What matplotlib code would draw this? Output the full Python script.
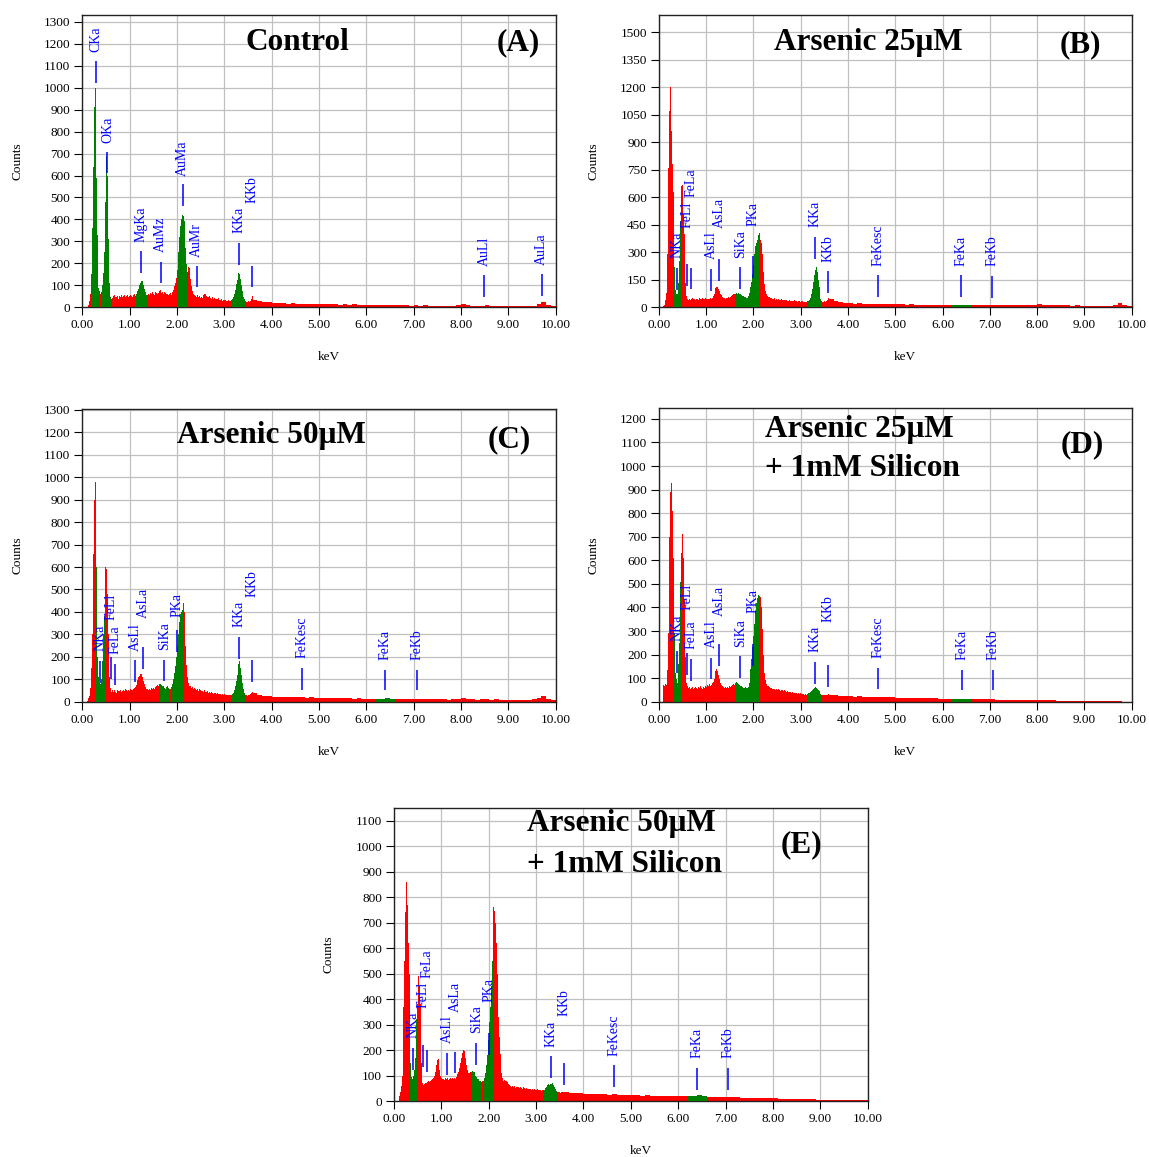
import numpy as np
import matplotlib
matplotlib.use('Agg')
import matplotlib.pyplot as plt

plt.rcParams['font.family'] = ['Liberation Serif', 'DejaVu Serif']

# ---------------- data ----------------
FINE_STEP, FINE_END, COARSE_STEP, E_MAX = 0.02, 3.6, 0.1, 10.0
x_ticks = [0, 1, 2, 3, 4, 5, 6, 7, 8, 9, 10]

# counts per 0.02 keV channel from 0 to 3.6 keV
counts_A_fine = [
    0, 0, 0, 0, 0, 0, 10, 30, 60, 150,
    360, 640, 910, 1000, 850, 590, 330, 90, 75, 60,
    70, 100, 155, 250, 480, 690, 600, 310, 110, 45,
    38, 42, 50, 40, 55, 45, 48, 52, 40, 50,
    45, 55, 48, 52, 58, 45, 50, 55, 48, 52,
    55, 50, 58, 48, 55, 60, 52, 62, 72, 85,
    100, 110, 120, 118, 100, 85, 68, 58, 55, 60,
    62, 58, 65, 60, 68, 62, 58, 70, 64, 60,
    66, 72, 80, 65, 70, 62, 68, 64, 60, 58,
    62, 55, 60, 65, 58, 70, 80, 95, 110, 135,
    170, 250, 320, 370, 400, 420, 415, 395, 340, 270,
    195, 160, 185, 180, 130, 95, 75, 62, 55, 50,
    48, 55, 45, 50, 42, 46, 52, 44, 58, 62,
    60, 52, 48, 45, 50, 42, 40, 46, 38, 42,
    40, 36, 38, 42, 35, 38, 32, 36, 30, 34,
    32, 35, 30, 28, 33, 30, 28, 32, 38, 45,
    60, 80, 105, 125, 145, 155, 150, 130, 100, 72,
    48, 36, 30, 26, 24, 28, 25, 30, 40, 50]
# counts per 0.1 keV channel from 3.6 to 10 keV
counts_A_tail = [
    35, 28, 24, 22, 20, 18, 19, 17, 18, 16, 17, 15, 16, 14, 15, 14,
    13, 14, 12, 13, 12, 13, 11, 12, 11, 10, 11, 10, 11, 10, 9, 10,
    9, 8, 9, 8, 9, 8, 7, 8, 7, 7, 8, 10, 15, 9, 7, 7,
    8, 9, 7, 6, 7, 6, 6, 5, 6, 6, 7, 8, 14, 24, 12, 6]

counts_B_fine = [
    0, 0, 0, 0, 0, 5, 15, 40, 80, 290,
    760, 1070, 1200, 960, 780, 630, 220, 95, 75, 70,
    130, 250, 420, 470, 660, 670, 510, 400, 130, 60,
    45, 40, 48, 42, 46, 50, 44, 48, 42, 47,
    45, 48, 42, 50, 46, 44, 49, 45, 47, 50,
    46, 44, 48, 45, 50, 47, 52, 60, 75, 95,
    105, 112, 110, 100, 90, 75, 65, 58, 52, 50,
    48, 52, 50, 55, 52, 58, 60, 62, 65, 70,
    72, 75, 78, 72, 76, 74, 70, 68, 62, 60,
    55, 58, 52, 50, 60, 78, 95, 110, 140, 180,
    230, 290, 335, 350, 370, 395, 405, 370, 350, 290,
    190, 125, 90, 72, 65, 60, 58, 55, 50, 52,
    48, 45, 50, 42, 46, 40, 44, 42, 38, 45,
    40, 38, 42, 36, 40, 38, 35, 37, 40, 34,
    36, 33, 35, 38, 32, 34, 30, 33, 35, 31,
    32, 30, 34, 29, 31, 28, 30, 32, 35, 40,
    50, 70, 100, 140, 175, 205, 220, 190, 150, 110,
    70, 45, 35, 30, 28, 32, 30, 35, 42, 50]
counts_B_tail = [
    45, 33, 27, 24, 22, 20, 22, 19, 20, 18, 19, 17, 18, 16, 17, 16,
    15, 16, 15, 14, 15, 14, 15, 14, 13, 14, 13, 14, 15, 13, 12, 13,
    12, 11, 12, 11, 12, 10, 11, 10, 11, 10, 11, 13, 18, 12, 10, 11,
    10, 12, 10, 9, 10, 8, 9, 8, 8, 7, 8, 9, 15, 26, 14, 6]

counts_C_fine = [
    0, 0, 0, 0, 0, 5, 15, 25, 60, 150,
    300, 660, 900, 980, 890, 600, 200, 110, 85, 80,
    100, 180, 300, 380, 600, 590, 480, 300, 110, 60,
    45, 50, 42, 48, 52, 45, 40, 50, 46, 48,
    50, 44, 48, 52, 47, 55, 50, 46, 52, 48,
    55, 50, 58, 52, 56, 60, 65, 75, 95, 110,
    115, 122, 125, 110, 92, 78, 65, 58, 55, 52,
    55, 58, 52, 60, 56, 62, 58, 65, 70, 75,
    72, 78, 80, 76, 72, 70, 62, 58, 65, 72,
    68, 62, 55, 55, 65, 80, 100, 130, 160, 200,
    250, 300, 355, 390, 400, 410, 440, 400, 330, 250,
    165, 110, 85, 72, 68, 62, 65, 58, 60, 55,
    52, 56, 48, 55, 50, 46, 52, 48, 45, 50,
    44, 42, 46, 40, 43, 38, 42, 40, 36, 40,
    38, 35, 40, 36, 33, 37, 35, 32, 34, 30,
    33, 30, 32, 28, 31, 29, 30, 28, 35, 40,
    50, 68, 90, 118, 145, 168, 180, 152, 120, 85,
    55, 40, 32, 28, 26, 30, 28, 33, 40, 45]
counts_C_tail = [
    38, 30, 26, 24, 22, 21, 22, 20, 21, 19, 20, 18, 19, 17, 18, 17,
    16, 17, 15, 16, 15, 14, 15, 14, 13, 14, 13, 14, 15, 13, 12, 13,
    12, 11, 12, 11, 10, 11, 10, 11, 10, 9, 10, 12, 16, 11, 10, 9,
    10, 11, 9, 10, 9, 8, 8, 7, 8, 7, 8, 10, 16, 24, 14, 6]

counts_D_fine = [
    0, 0, 0, 0, 0, 72, 68, 75, 70, 135,
    290, 700, 890, 930, 810, 610, 290, 120, 95, 80,
    160, 250, 330, 510, 630, 710, 610, 430, 190, 80,
    65, 58, 62, 55, 60, 64, 56, 60, 62, 58,
    60, 55, 62, 58, 65, 60, 56, 63, 58, 68,
    62, 70, 65, 75, 68, 72, 78, 85, 95, 115,
    130, 137, 130, 115, 95, 80, 72, 66, 62, 60,
    62, 58, 64, 60, 66, 62, 68, 65, 70, 75,
    72, 78, 82, 80, 75, 72, 68, 65, 62, 60,
    58, 62, 58, 60, 62, 80, 110, 140, 180, 230,
    280, 330, 380, 420, 440, 452, 448, 445, 400, 310,
    200, 120, 90, 76, 70, 68, 65, 62, 60, 58,
    55, 52, 56, 50, 54, 48, 52, 50, 46, 50,
    48, 45, 50, 44, 46, 42, 45, 40, 43, 40,
    38, 40, 36, 38, 35, 37, 34, 36, 33, 35,
    33, 35, 31, 34, 30, 32, 30, 33, 35, 38,
    40, 45, 50, 55, 58, 62, 60, 56, 50, 44,
    38, 33, 30, 28, 30, 28, 30, 27, 30, 32]
counts_D_tail = [
    30, 28, 26, 25, 23, 22, 23, 21, 22, 20, 20, 19, 18, 18, 17, 17,
    16, 16, 15, 15, 15, 14, 14, 13, 13, 13, 12, 12, 13, 12, 11, 11,
    10, 10, 10, 9, 9, 9, 8, 8, 8, 7, 7, 7, 8, 6, 6, 6,
    5, 5, 5, 4, 4, 4, 3, 3, 4, 2, 2, 1, 1, 1, 0, 0]

counts_E_fine = [
    0, 0, 0, 0, 0, 20, 35, 60, 100, 180,
    370, 550, 740, 860, 770, 620, 500, 150, 95, 85,
    100, 120, 170, 320, 380, 490, 450, 380, 290, 150,
    70, 62, 68, 72, 70, 75, 78, 74, 80, 82,
    85, 90, 100, 115, 140, 160, 165, 150, 120, 100,
    90, 85, 88, 82, 90, 86, 92, 84, 88, 90,
    86, 92, 88, 90, 85, 95, 100, 105, 115, 130,
    150, 170, 190, 200, 195, 170, 140, 120, 110, 110,
    112, 115, 118, 115, 112, 105, 100, 95, 88, 85,
    80, 78, 75, 78, 80, 90, 110, 140, 180, 240,
    310, 370, 450, 550, 660, 760, 745, 700, 620, 500,
    330, 250, 185, 110, 90, 80, 82, 78, 80, 75,
    65, 62, 58, 60, 56, 58, 54, 57, 52, 55,
    53, 56, 50, 54, 52, 49, 53, 50, 48, 51,
    49, 47, 50, 46, 48, 45, 47, 44, 46, 45,
    44, 46, 42, 45, 43, 41, 44, 42, 45, 50,
    55, 60, 62, 65, 64, 66, 65, 70, 62, 55,
    48, 40, 36, 34, 35, 33, 36, 34, 35, 37]
counts_E_tail = [
    35, 33, 31, 30, 28, 29, 27, 28, 26, 25, 26, 24, 25, 23, 22, 23,
    21, 22, 20, 21, 20, 19, 20, 19, 18, 18, 19, 20, 22, 19, 17, 16,
    16, 15, 15, 14, 14, 13, 13, 12, 12, 11, 11, 10, 11, 9, 9, 8,
    8, 7, 7, 6, 6, 5, 5, 4, 4, 4, 3, 3, 3, 2, 2, 2]

# element windows shown in green (keV)
windows_A = [(0.18, 0.36), (0.42, 0.62), (1.14, 1.36), (2.00, 2.24), (3.16, 3.46)]
windows_B = [(0.30, 0.48), (1.62, 1.86), (1.88, 2.14), (3.16, 3.46), (6.2, 6.6)]
windows_C = [(0.30, 0.48), (1.62, 1.86), (1.88, 2.12), (3.16, 3.46), (6.2, 6.6)]
windows_D = [(0.30, 0.48), (1.62, 1.86), (1.88, 2.14), (3.16, 3.46), (6.2, 6.6)]
windows_E = [(0.32, 0.50), (1.62, 1.86), (1.88, 2.12), (3.16, 3.46), (6.2, 6.6)]

# element markers: name, keV, line bottom, line top, text bottom (counts)
labels_A = [("CKa", 0.28, 1023, 1121, 1161), ("OKa", 0.53, 610, 706, 750),
            ("MgKa", 1.25, 158, 258, 296), ("AuMz", 1.66, 109, 208, 253),
            ("AuMa", 2.12, 461, 561, 600), ("AuMr", 2.42, 91, 190, 231),
            ("KKa", 3.31, 193, 291, 337), ("KKb", 3.59, 91, 190, 476),
            ("AuLl", 8.49, 49, 147, 190), ("AuLa", 9.71, 53, 152, 193)]
labels_B = [("NKa", 0.39, 95, 213, 267), ("FeLl", 0.605, 116, 235, 435),
            ("FeLa", 0.69, 98, 216, 604), ("AsLl", 1.113, 91, 209, 262),
            ("AsLa", 1.282, 144, 262, 435), ("SiKa", 1.726, 102, 222, 271),
            ("PKa", 2.0, 162, 280, 445), ("KKa", 3.311, 264, 382, 436),
            ("KKb", 3.586, 80, 198, 249), ("FeKesc", 4.643, 58, 176, 227),
            ("FeKa", 6.398, 58, 176, 227), ("FeKb", 7.054, 53, 171, 227)]
labels_C = [("NKa", 0.38, 85, 182, 227), ("FeLl", 0.613, 103, 200, 364),
            ("FeLa", 0.698, 75, 170, 213), ("AsLl", 1.12, 89, 185, 227),
            ("AsLa", 1.29, 147, 245, 371), ("SiKa", 1.733, 92, 188, 230),
            ("PKa", 2.008, 221, 320, 378), ("KKa", 3.318, 190, 288, 331),
            ("KKb", 3.593, 89, 185, 468), ("FeKesc", 4.649, 54, 152, 193),
            ("FeKa", 6.397, 52, 141, 186), ("FeKb", 7.07, 52, 141, 186)]
labels_D = [("NKa", 0.392, 123, 216, 259), ("FeLl", 0.605, 114, 205, 389),
            ("FeLa", 0.69, 89, 181, 222), ("AsLl", 1.113, 95, 187, 226),
            ("AsLa", 1.282, 152, 245, 364), ("SiKa", 1.726, 102, 194, 233),
            ("PKa", 2.0, 152, 245, 375), ("KKa", 3.311, 76, 169, 212),
            ("KKb", 3.586, 64, 156, 340), ("FeKesc", 4.643, 52, 144, 184),
            ("FeKa", 6.41, 50, 135, 177), ("FeKb", 7.07, 50, 135, 177)]
labels_E = [("NKa", 0.408, 122, 207, 246), ("FeLl", 0.619, 135, 220, 364),
            ("FeLa", 0.703, 115, 200, 481), ("AsLl", 1.125, 102, 187, 226),
            ("AsLa", 1.294, 109, 194, 351), ("SiKa", 1.738, 141, 226, 266),
            ("PKa", 2.012, 181, 266, 390), ("KKa", 3.321, 92, 177, 213),
            ("KKb", 3.596, 63, 148, 334), ("FeKesc", 4.65, 56, 141, 178),
            ("FeKa", 6.403, 43, 131, 167), ("FeKb", 7.058, 43, 131, 167)]

titles = {"A": ["Control"], "B": ["Arsenic 25μM"], "C": ["Arsenic 50μM"],
          "D": ["Arsenic 25μM", "+ 1mM Silicon"], "E": ["Arsenic 50μM", "+ 1mM Silicon"]}
y_tick_max = {"A": 1300, "B": 1500, "C": 1300, "D": 1200, "E": 1100}
y_tick_step = {"A": 100, "B": 150, "C": 100, "D": 100, "E": 100}

# ---------------- layout ----------------
W, H = 1149, 1157
fig = plt.figure(figsize=(W / 100, H / 100), dpi=100)

edges = np.concatenate([np.round(np.arange(0, round(FINE_END / FINE_STEP)) * FINE_STEP, 4),
                        np.round(FINE_END + np.arange(0, round((E_MAX - FINE_END) / COARSE_STEP) + 1) * COARSE_STEP, 4)])
centers = (edges[:-1] + edges[1:]) / 2

RED, GREEN, BLUE = '#ff0000', '#008000', '#0000ff'

panels = {
    # key: (left, top, right, bottom px, ymax, title specs, tag pos)
    "A": dict(box=(82.3, 14.5, 555.5, 307.3), ymax=1333,
              data=(counts_A_fine, counts_A_tail), win=windows_A, lab=labels_A,
              title=[(297, 50, 'center')], tag=(518, 50)),
    "B": dict(box=(658.7, 14.5, 1131.7, 307.3), ymax=1598,
              data=(counts_B_fine, counts_B_tail), win=windows_B, lab=labels_B,
              title=[(868, 50, 'center')], tag=(1080, 52)),
    "C": dict(box=(82.3, 409.0, 555.5, 701.7), ymax=1304,
              data=(counts_C_fine, counts_C_tail), win=windows_C, lab=labels_C,
              title=[(271, 442.5, 'center')], tag=(509, 447)),
    "D": dict(box=(658.7, 408.3, 1131.7, 701.7), ymax=1245,
              data=(counts_D_fine, counts_D_tail), win=windows_D, lab=labels_D,
              title=[(765, 437.5, 'left'), (765, 476, 'left')], tag=(1082, 452)),
    "E": dict(box=(394.0, 808.3, 867.7, 1101.0), ymax=1149,
              data=(counts_E_fine, counts_E_tail), win=windows_E, lab=labels_E,
              title=[(527, 830.5, 'left'), (527, 872, 'left')], tag=(801, 852)),
}

for key, p in panels.items():
    l, t, r, b = p['box']
    ax = fig.add_axes([l / W, 1 - b / H, (r - l) / W, (b - t) / H])
    fine, tail = p['data']
    assert len(fine) == 180 and len(tail) == 64, key
    vals = np.array(fine + tail, dtype=float)
    ax.stairs(vals, edges, fill=True, color=RED, lw=0, zorder=2)
    for lo, hi in p['win']:
        idx = np.where((centers > lo) & (centers < hi))[0]
        ax.stairs(vals[idx], edges[idx[0]:idx[-1] + 2], fill=True, color=GREEN, lw=0, zorder=3)
    for name, e, y0, y1, yt in p['lab']:
        ax.plot([e, e], [y0, y1], color=BLUE, lw=1.1, zorder=4, solid_capstyle='butt')
        ax.text(e, yt, name, rotation=90, ha='center', va='bottom', color=BLUE,
                fontsize=10, zorder=5)
    ax.set_xlim(0, E_MAX)
    ax.set_ylim(0, p['ymax'])
    ax.set_xticks(x_ticks)
    ax.set_xticklabels([f"{v:.2f}" for v in x_ticks])
    yt = np.arange(0, y_tick_max[key] + 1, y_tick_step[key])
    ax.set_yticks(yt)
    ax.set_yticklabels([str(int(v)) for v in yt])
    ax.grid(True, color='#c0c0c0', lw=0.9)
    ax.set_axisbelow(True)
    ax.tick_params(direction='out', length=5.5, width=0.8, labelsize=9.5, pad=3,
                   top=False, right=False, colors='black')
    for s in ax.spines.values():
        s.set_color('#222222')
        s.set_linewidth(1.0)
    # axis labels
    fig.text((l - 65) / W, 1 - ((t + b) / 2) / H, "Counts", rotation=90,
             ha='center', va='center', fontsize=9.5)
    fig.text(((l + r) / 2 + 10) / W, 1 - (b + 50) / H, "keV",
             ha='center', va='center', fontsize=9.5)
    # titles
    for (tx, ty, ha), line in zip(p['title'], titles[key]):
        fig.text(tx / W, 1 - ty / H, line, ha=ha, va='baseline',
                 fontsize=22.5, fontweight='bold')
    fig.text(p['tag'][0] / W, 1 - p['tag'][1] / H, f"({key})", ha='center',
             va='baseline', fontsize=22.5, fontweight='bold')

fig.savefig('out.png', dpi=100)
